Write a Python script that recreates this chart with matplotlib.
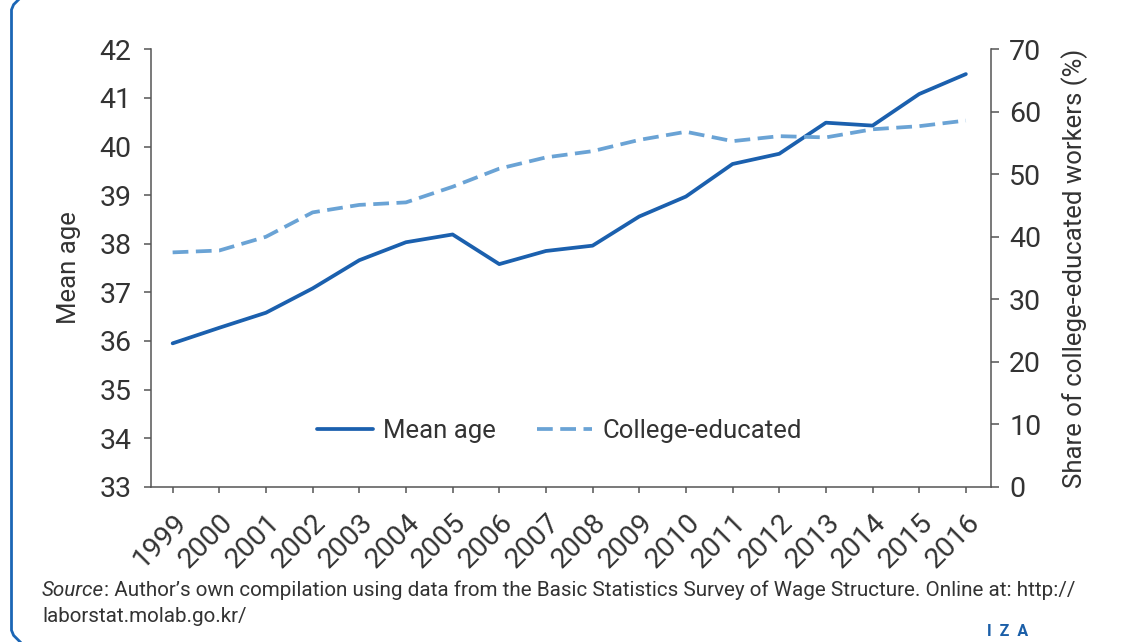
import matplotlib
matplotlib.use('Agg')
import matplotlib.pyplot as plt
from matplotlib.patches import PathPatch
from matplotlib.path import Path
from matplotlib.transforms import Affine2D

# Korean wage survey: mean worker age and share of college-educated workers
years = ['1999', '2000', '2001', '2002', '2003', '2004', '2005', '2006', '2007',
         '2008', '2009', '2010', '2011', '2012', '2013', '2014', '2015', '2016']
mean_age = [35.95, 36.27, 36.58, 37.08, 37.66, 38.03, 38.19, 37.58, 37.85,
            37.96, 38.56, 38.97, 39.64, 39.85, 40.49, 40.43, 41.08, 41.49]
college_share = [37.5, 37.8, 40.0, 43.9, 45.1, 45.5, 48.0, 50.9, 52.7,
                 53.7, 55.5, 56.8, 55.3, 56.1, 55.9, 57.2, 57.7, 58.6]

plt.rcParams['font.family'] = ['Roboto', 'DejaVu Sans']
text_col = '#333333'
spine_col = '#555555'
dark_blue = '#1b60ae'
light_blue = '#6aa3d5'
fs = 18.5
tick_fs = 20.5

fig = plt.figure(figsize=(11.23, 6.42), dpi=100)
ax = fig.add_axes([0.1342, 0.2419, 0.7483, 0.6813])
ax2 = ax.twinx()

x = list(range(len(years)))
l1, = ax.plot(x, mean_age, color=dark_blue, lw=2.7,
              solid_joinstyle='round', solid_capstyle='round')
l2, = ax2.plot(x, college_share, color=light_blue, lw=2.7, dashes=(4.2, 2))

ax.set_xlim(-0.47, 17.54)
ax.set_ylim(33, 42)
ax.set_yticks(range(33, 43))
ax2.set_ylim(0, 70)
ax2.set_yticks(range(0, 71, 10))
ax.set_xticks(x)
ax.set_xticklabels(years, rotation=45, ha='right', rotation_mode='anchor')

for a in (ax, ax2):
    a.spines['top'].set_visible(False)
    for s in a.spines.values():
        s.set_color(spine_col)
        s.set_linewidth(1.1)
ax.spines['right'].set_visible(False)
ax2.spines['left'].set_visible(False)
ax2.spines['bottom'].set_visible(False)

ax.tick_params(axis='y', length=5, width=1.1, color=spine_col, pad=9,
               labelsize=tick_fs, labelcolor=text_col)
ax.tick_params(axis='x', length=4, width=1.1, color=spine_col, pad=12,
               labelsize=tick_fs, labelcolor=text_col)
ax2.tick_params(axis='y', length=6, width=1.1, color=spine_col, pad=7,
                labelsize=tick_fs, labelcolor=text_col)

ax.set_ylabel('Mean age', fontsize=fs, color=text_col)
ax.yaxis.set_label_coords(-0.083, 0.5)
ax2.set_ylabel('Share of college-educated workers (%)', fontsize=fs, color=text_col)
ax2.yaxis.set_label_coords(1.083, 0.5)

ax2.legend([l1, l2], ['Mean age', 'College-educated'], loc='center',
           bbox_to_anchor=(0.4865, 0.127), ncol=2, frameon=False,
           fontsize=fs, labelcolor=text_col, handlelength=2.15,
           handletextpad=0.4, columnspacing=1.6)

# source note, italic lead word followed by the rest of the line
src_fs = 14.85
src = fig.text(42 / 1123, 1 - 591 / 642, 'Source', style='italic',
               fontsize=src_fs, color=text_col, va='center', ha='left')
ax.annotate(': Author\u2019s own compilation using data from the Basic Statistics '
            'Survey of Wage Structure. Online at: http://',
            xy=(1, 0), xycoords=src, va='bottom', ha='left',
            fontsize=src_fs, color=text_col, annotation_clip=False)
fig.text(42 / 1123, 1 - 616 / 642, 'laborstat.molab.go.kr/',
         fontsize=src_fs, color=text_col, va='center', ha='left')

fig.text(1008 / 1123, 1 - 632 / 642, 'I  Z  A', fontsize=11.5, fontweight='bold',
         color='#1b5fa8', ha='center', va='center')

# panel frame: left edge with rounded corners (inches, figure space)
x_l, y_b, y_t, r = 0.115, -0.03, 6.47, 0.2
top_arc = Path.arc(90, 180).transformed(Affine2D().scale(r).translate(x_l + r, y_t - r))
bot_arc = Path.arc(180, 270).transformed(Affine2D().scale(r).translate(x_l + r, y_b + r))
verts = list(top_arc.vertices) + list(bot_arc.vertices) + [(11.5, y_b)]
frame = PathPatch(Path(verts), transform=fig.dpi_scale_trans, fill=False,
                  edgecolor='#1b66b5', linewidth=2.0)
fig.add_artist(frame)

fig.savefig('out.png', dpi=100)
